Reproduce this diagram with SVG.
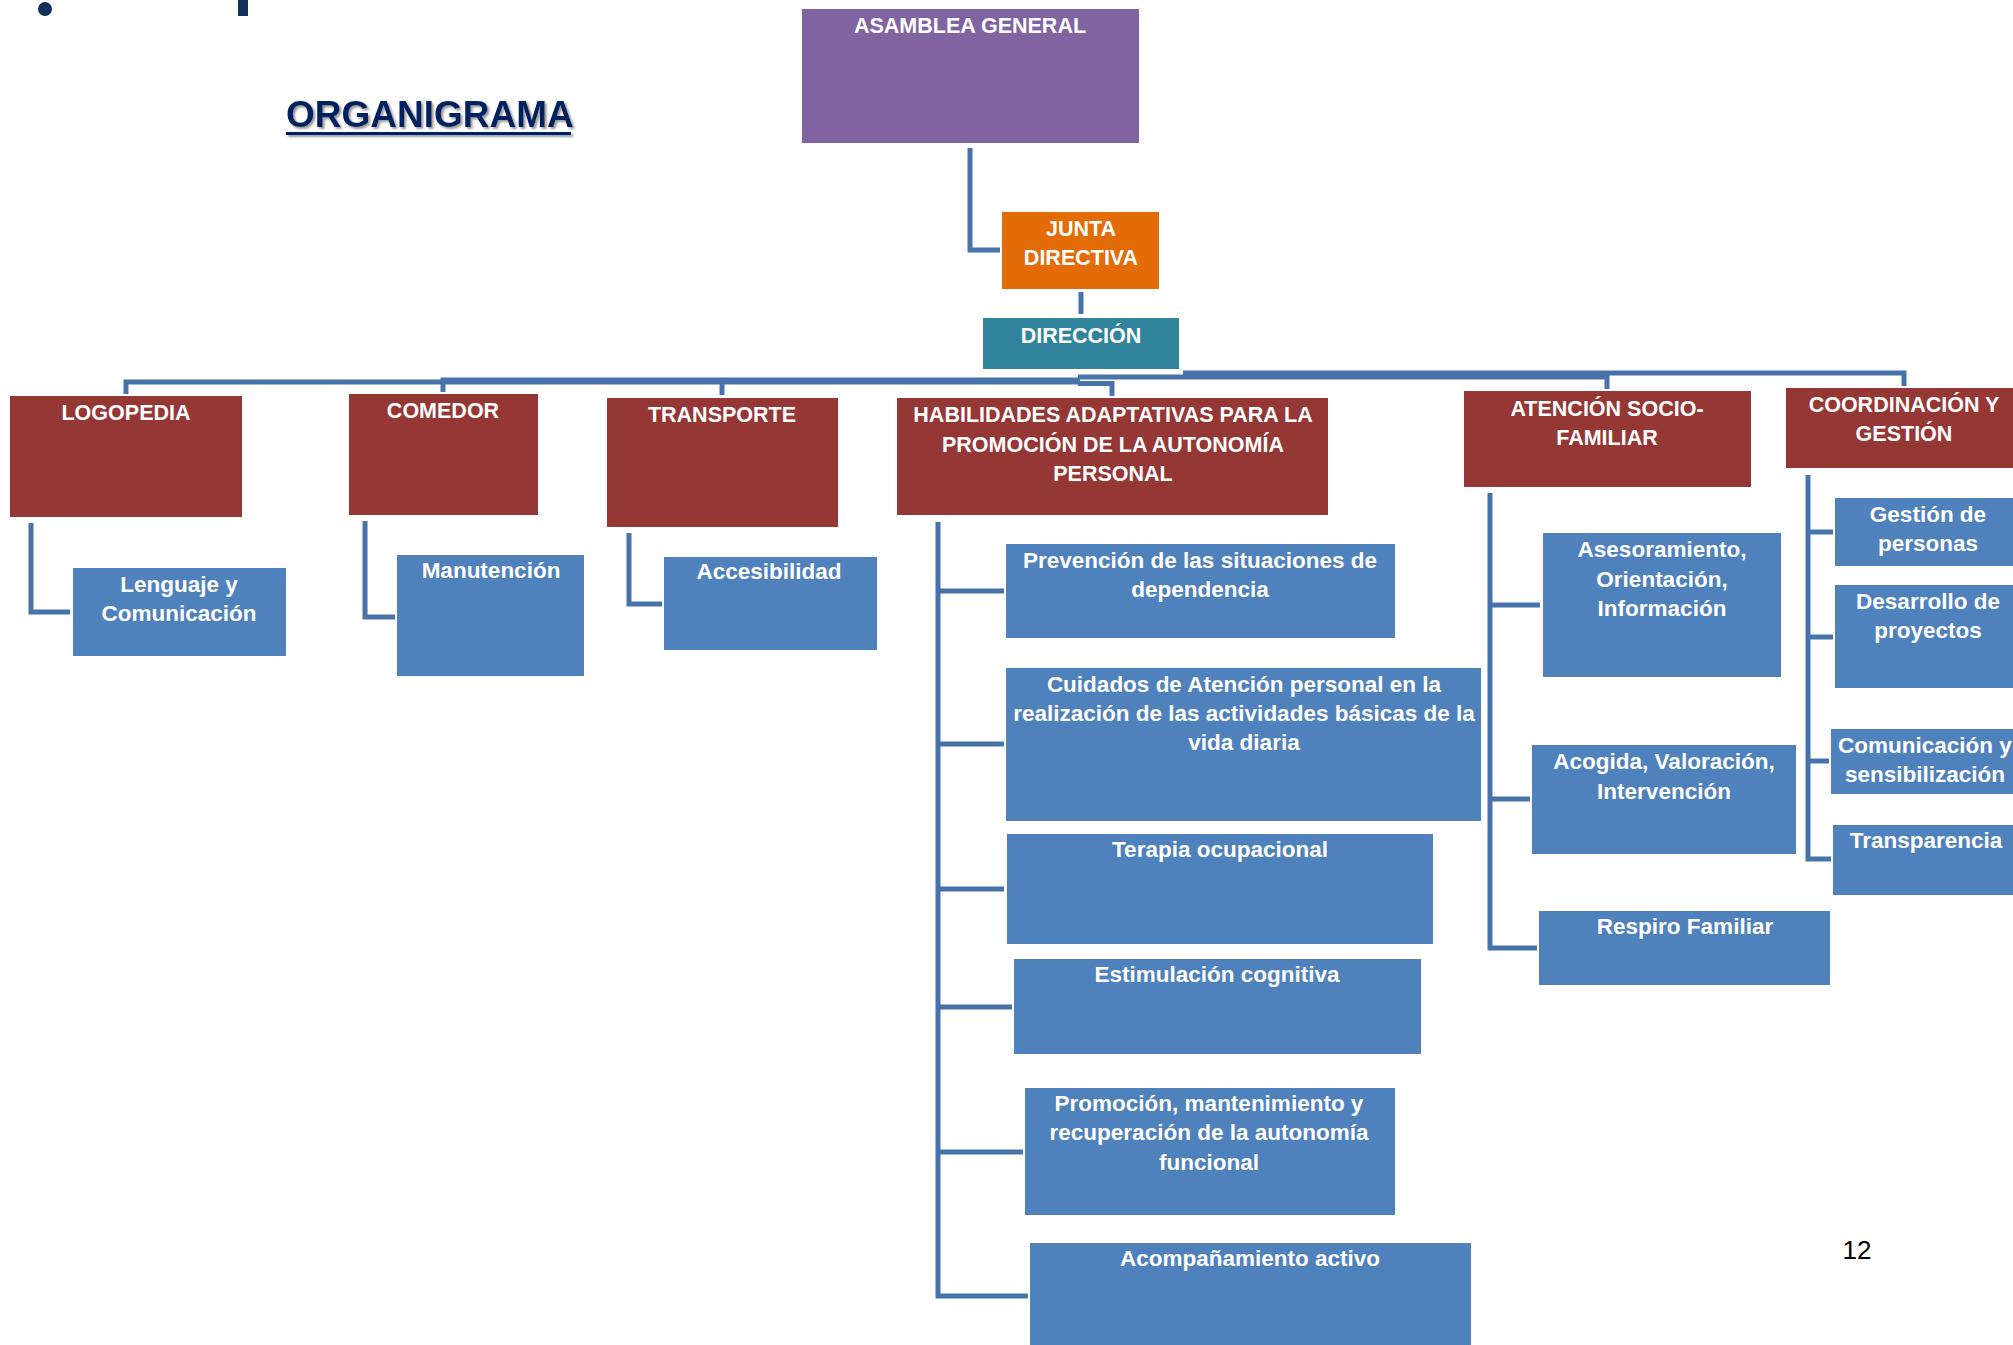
<svg xmlns="http://www.w3.org/2000/svg" width="2013" height="1345" viewBox="0 0 2013 1345">
<style>
  .t{font-family:"Liberation Sans",Arial,sans-serif;font-weight:bold;fill:#ffffff;text-anchor:middle}
  .h{font-size:21.5px}
  .b{font-size:22.5px}
  .red{fill:#953735}
  .blue{fill:#4f81bd}
  .conn path{fill:none;stroke:#4772aa;stroke-width:5;stroke-linejoin:miter;stroke-linecap:butt}
</style>
<defs>
  <filter id="sh" x="-5%" y="-20%" width="110%" height="140%">
    <feDropShadow dx="2" dy="2" stdDeviation="0.8" flood-color="#9a9a9a"/>
  </filter>
</defs>
<rect width="2013" height="1345" fill="#ffffff"/>

<!-- decorative fragments at top-left -->
<circle cx="45" cy="9" r="7" fill="#12305a"/>
<rect x="238" y="0" width="10" height="16" fill="#12305a"/>

<g id="title" filter="url(#sh)">
  <text x="286" y="127" style="font-family:'Liberation Sans',Arial,sans-serif;font-weight:bold;font-size:37px;fill:#002060">ORGANIGRAMA</text>
  <rect x="286" y="132" width="285" height="3" fill="#002060"/>
</g>

<g id="connectors" class="conn">
  <path d="M970,148 V250 H1000"/>
  <path d="M1081,292 V314"/>
  <!-- bus from Dirección -->
  <path d="M1080,382 H126 V394"/>
  <path d="M1080,380 H443 V392"/>
  <path d="M722,381 V395"/>
  <path d="M1078,383.5 H1112 V396"/>
  <path d="M1078,377 H1607 V389"/>
  <path d="M1183,373 H1904 V386"/>
  <!-- left branches -->
  <path d="M31,523 V612 H70"/>
  <path d="M365,521 V617 H395"/>
  <path d="M629,533 V604 H662"/>
  <!-- Habilidades branches -->
  <path d="M938,522 V1296 H1028"/>
  <path d="M938,591 H1004"/>
  <path d="M938,744 H1004"/>
  <path d="M938,889 H1004"/>
  <path d="M938,1007 H1012"/>
  <path d="M938,1152 H1023"/>
  <!-- Atención branches -->
  <path d="M1490,493 V948 H1537"/>
  <path d="M1490,605 H1540"/>
  <path d="M1490,799 H1530"/>
  <!-- Coordinación branches -->
  <path d="M1808,475 V859 H1831"/>
  <path d="M1808,532 H1833"/>
  <path d="M1808,637 H1833"/>
  <path d="M1808,761 H1829"/>
</g>

<g id="asamblea">
  <rect x="802" y="9" width="337" height="134" fill="#8064a2"/>
  <text class="t h" x="970" y="33">ASAMBLEA GENERAL</text>
</g>
<g id="junta">
  <rect x="1002" y="212" width="157" height="77" fill="#e36c09"/>
  <text class="t h" x="1081" y="236">JUNTA</text>
  <text class="t h" x="1081" y="265">DIRECTIVA</text>
</g>
<g id="direccion">
  <rect x="983" y="318" width="196" height="51" fill="#31849b"/>
  <text class="t h" x="1081" y="343">DIRECCIÓN</text>
</g>

<g id="logopedia">
  <rect class="red" x="10" y="396" width="232" height="121"/>
  <text class="t h" x="126" y="420">LOGOPEDIA</text>
</g>
<g id="comedor">
  <rect class="red" x="349" y="394" width="189" height="121"/>
  <text class="t h" x="443" y="418">COMEDOR</text>
</g>
<g id="transporte">
  <rect class="red" x="607" y="398" width="231" height="129"/>
  <text class="t h" x="722" y="422">TRANSPORTE</text>
</g>
<g id="habilidades">
  <rect class="red" x="897" y="398" width="431" height="117"/>
  <text class="t h" x="1113" y="422">HABILIDADES ADAPTATIVAS PARA LA</text>
  <text class="t h" x="1113" y="452">PROMOCIÓN DE LA AUTONOMÍA</text>
  <text class="t h" x="1113" y="481">PERSONAL</text>
</g>
<g id="atencion">
  <rect class="red" x="1464" y="391" width="287" height="96"/>
  <text class="t h" x="1607" y="416">ATENCIÓN SOCIO-</text>
  <text class="t h" x="1607" y="445">FAMILIAR</text>
</g>
<g id="coordinacion">
  <rect class="red" x="1786" y="388" width="236" height="80"/>
  <text class="t h" x="1904" y="412">COORDINACIÓN Y</text>
  <text class="t h" x="1904" y="441">GESTIÓN</text>
</g>

<g id="lenguaje">
  <rect class="blue" x="73" y="568" width="213" height="88"/>
  <text class="t b" x="179" y="592">Lenguaje y</text>
  <text class="t b" x="179" y="621">Comunicación</text>
</g>
<g id="manutencion">
  <rect class="blue" x="397" y="555" width="187" height="121"/>
  <text class="t b" x="491" y="578">Manutención</text>
</g>
<g id="accesibilidad">
  <rect class="blue" x="664" y="557" width="213" height="93"/>
  <text class="t b" x="769" y="579">Accesibilidad</text>
</g>

<g id="prevencion">
  <rect class="blue" x="1006" y="544" width="389" height="94"/>
  <text class="t b" x="1200" y="568">Prevención de las situaciones de</text>
  <text class="t b" x="1200" y="597">dependencia</text>
</g>
<g id="cuidados">
  <rect class="blue" x="1006" y="668" width="475" height="153"/>
  <text class="t b" x="1244" y="692">Cuidados de Atención personal en la</text>
  <text class="t b" x="1244" y="721">realización de las actividades básicas de la</text>
  <text class="t b" x="1244" y="750">vida diaria</text>
</g>
<g id="terapia">
  <rect class="blue" x="1007" y="834" width="426" height="110"/>
  <text class="t b" x="1220" y="857">Terapia ocupacional</text>
</g>
<g id="estimulacion">
  <rect class="blue" x="1014" y="959" width="407" height="95"/>
  <text class="t b" x="1217" y="982">Estimulación cognitiva</text>
</g>
<g id="promocion">
  <rect class="blue" x="1025" y="1088" width="370" height="127"/>
  <text class="t b" x="1209" y="1111">Promoción, mantenimiento y</text>
  <text class="t b" x="1209" y="1140">recuperación de la autonomía</text>
  <text class="t b" x="1209" y="1170">funcional</text>
</g>
<g id="acompanamiento">
  <rect class="blue" x="1030" y="1243" width="441" height="110"/>
  <text class="t b" x="1250" y="1266">Acompañamiento activo</text>
</g>

<g id="asesoramiento">
  <rect class="blue" x="1543" y="533" width="238" height="144"/>
  <text class="t b" x="1662" y="557">Asesoramiento,</text>
  <text class="t b" x="1662" y="587">Orientación,</text>
  <text class="t b" x="1662" y="616">Información</text>
</g>
<g id="acogida">
  <rect class="blue" x="1532" y="745" width="264" height="109"/>
  <text class="t b" x="1664" y="769">Acogida, Valoración,</text>
  <text class="t b" x="1664" y="799">Intervención</text>
</g>
<g id="respiro">
  <rect class="blue" x="1539" y="911" width="291" height="74"/>
  <text class="t b" x="1685" y="934">Respiro Familiar</text>
</g>

<g id="gestion">
  <rect class="blue" x="1835" y="498" width="187" height="68"/>
  <text class="t b" x="1928" y="522">Gestión de</text>
  <text class="t b" x="1928" y="551">personas</text>
</g>
<g id="desarrollo">
  <rect class="blue" x="1835" y="585" width="187" height="103"/>
  <text class="t b" x="1928" y="609">Desarrollo de</text>
  <text class="t b" x="1928" y="638">proyectos</text>
</g>
<g id="comunicacion">
  <rect class="blue" x="1831" y="729" width="191" height="65"/>
  <text class="t b" x="1925" y="753">Comunicación y</text>
  <text class="t b" x="1925" y="782">sensibilización</text>
</g>
<g id="transparencia">
  <rect class="blue" x="1833" y="825" width="189" height="70"/>
  <text class="t b" x="1926" y="848">Transparencia</text>
</g>

<text x="1857" y="1259" style="font-family:'Liberation Sans',Arial,sans-serif;font-size:26px;fill:#000000;text-anchor:middle">12</text>
</svg>
